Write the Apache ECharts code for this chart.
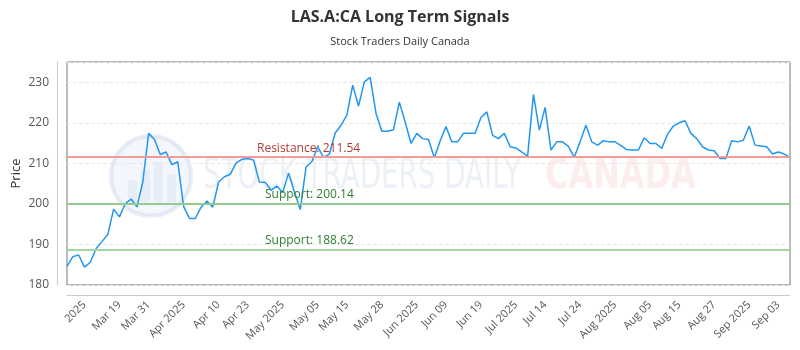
<!DOCTYPE html>
<html>
<head>
<meta charset="utf-8">
<script src="https://cdn.jsdelivr.net/npm/echarts@6/dist/echarts.min.js"></script>
<style>
    html, body { margin: 0; padding: 0; background: #fff; }
    #chart { width: 800px; height: 350px; }
</style>
</head>
<body>
<div id="chart"></div>
<script>
// closing prices, one per point
const prices = [
    184.6, 187.0, 187.4, 184.4, 185.6, 189.0, 190.7, 192.5, 198.7, 196.8,
    200.1, 201.2, 199.3, 205.4, 217.4, 215.9, 212.2, 212.8, 209.7, 210.4,
    199.4, 196.4, 196.4, 199.2, 200.7, 199.2, 205.4, 206.7, 207.3, 210.1,
    211.0, 211.2, 210.8, 205.4, 205.3, 203.4, 204.4, 202.8, 207.6, 203.0,
    198.6, 209.1, 210.4, 214.1, 211.5, 212.3, 217.5, 219.4, 221.9, 229.3,
    224.1, 230.1, 231.2, 222.3, 217.9, 217.9, 218.3, 225.1, 220.2, 214.9,
    217.4, 216.1, 215.9, 211.4, 215.5, 219.1, 215.3, 215.3, 217.4, 217.4,
    217.4, 221.3, 222.7, 216.9, 216.1, 217.4, 214.1, 213.8, 212.8, 211.8,
    227.0, 218.2, 223.8, 213.3, 215.3, 215.3, 214.2, 211.5, 215.3, 219.4,
    215.3, 214.5, 215.6, 215.3, 215.3, 214.4, 213.4, 213.3, 213.3, 216.3,
    214.9, 214.9, 213.7, 217.2, 219.2, 220.0, 220.5, 217.4, 216.1, 214.1,
    213.3, 213.1, 211.2, 211.2, 215.6, 215.3, 215.7, 219.2, 214.5, 214.3,
    214.1, 212.3, 212.8, 212.3, 211.5
];
const days = prices.map((p, i) => i);

// x axis labels and the point each one sits on
const tickLabels = ['2025', 'Mar 19', 'Mar 31', 'Apr 2025', 'Apr 10', 'Apr 23', 'May 2025', 'May 05',
    'May 15', 'May 28', 'Jun 2025', 'Jun 09', 'Jun 19', 'Jul 2025', 'Jul 14', 'Jul 24',
    'Aug 2025', 'Aug 05', 'Aug 15', 'Aug 27', 'Sep 2025', 'Sep 03'];
const tickIndex = [3, 9, 14, 20, 26, 31, 37, 43, 48, 54, 60, 65, 71, 77, 82, 88, 94, 100, 105, 111, 117, 122];

// signal levels
const levelNames = ['Resistance', 'Support', 'Support'];
const levelValues = [211.54, 200.14, 188.62];
const levelLine = ['#f19c97', '#93c993', '#a3d4a3'];
const levelText = ['#b23b33', '#2e7d32', '#2e7d32'];
const levelShift = [190, 198, 198];

const chart = echarts.init(document.getElementById('chart'), null, {renderer: 'canvas'});

let markData = levelValues.map((v, i) => ({
    yAxis: v,
    lineStyle: {color: levelLine[i], width: 2, type: 'solid'},
    label: {
        show: true,
        position: 'insideStartTop',
        distance: [levelShift[i], 3],
        formatter: levelNames[i] + ': ' + v.toFixed(2),
        color: levelText[i],
        fontSize: 12,
        fontFamily: 'Open Sans'
    }
}));

let option = {
    backgroundColor: '#fff',
    animation: false,
    title: {
        text: 'LAS.A:CA Long Term Signals',
        subtext: 'Stock Traders Daily Canada',
        left: 'center',
        top: 4,
        itemGap: 11,
        textStyle: {fontSize: 16, fontWeight: 'bold', color: '#333', fontFamily: 'Open Sans'},
        subtextStyle: {fontSize: 11, color: '#333', fontFamily: 'Open Sans'}
    },
    graphic: [{
        type: 'group',
        silent: true,
        z: 0,
        children: [
            {type: 'circle', shape: {cx: 151, cy: 176, r: 40},
                style: {fill: 'rgba(215,226,244,0.3)', stroke: 'rgba(195,208,232,0.4)', lineWidth: 4}},
            {type: 'rect', shape: {x: 128, y: 180, width: 9, height: 22},
                style: {fill: 'rgba(190,204,230,0.22)'}},
            {type: 'rect', shape: {x: 141, y: 170, width: 9, height: 32},
                style: {fill: 'rgba(190,204,230,0.22)'}},
            {type: 'rect', shape: {x: 154, y: 162, width: 9, height: 40},
                style: {fill: 'rgba(190,204,230,0.22)'}},
            {type: 'rect', shape: {x: 167, y: 174, width: 9, height: 28},
                style: {fill: 'rgba(190,204,230,0.22)'}},
            {type: 'text', x: 203, y: 177, scaleX: 0.66,
                style: {text: 'STOCK TRADERS DAILY', fontSize: 42, fontFamily: 'DejaVu Sans',
                    fill: 'rgba(200,210,232,0.34)', verticalAlign: 'middle'}},
            {type: 'text', x: 545, y: 177, scaleX: 0.76,
                style: {text: 'CANADA', fontSize: 42, fontWeight: 'bold', fontFamily: 'DejaVu Sans',
                    fill: 'rgba(250,205,205,0.35)', verticalAlign: 'middle'}}
        ]
    }],
    grid: {
        left: 67,
        right: 10,
        top: 62,
        bottom: 65,
        show: true,
        borderColor: '#777',
        borderWidth: 1,
        outerBoundsMode: 'none'
    },
    xAxis: {
        type: 'category',
        data: days,
        boundaryGap: false,
        offset: 10,
        axisLine: {show: true, lineStyle: {color: '#ccc'}},
        axisTick: {show: false},
        splitLine: {show: false},
        axisLabel: {
            rotate: 45,
            interval: idx => tickIndex.indexOf(idx) >= 0,
            formatter: (v, idx) => tickLabels[tickIndex.indexOf(idx)] || '',
            color: '#555',
            fontSize: 11,
            fontFamily: 'Open Sans',
            margin: 8
        }
    },
    yAxis: {
        type: 'value',
        name: 'Price',
        nameLocation: 'middle',
        nameGap: 34,
        nameMoveOverlap: false,
        nameTextStyle: {fontSize: 13, color: '#333', fontFamily: 'Open Sans'},
        min: 180,
        max: 235,
        interval: 10,
        offset: 10,
        axisLine: {show: true, lineStyle: {color: '#ccc'}},
        axisTick: {show: false},
        axisLabel: {color: '#555', fontSize: 12, fontFamily: 'Open Sans', margin: 8, showMaxLabel: false},
        splitLine: {show: true, lineStyle: {color: '#e8e8e8', type: 'dashed'}}
    },
    series: [{
        name: 'Price',
        type: 'line',
        data: prices,
        showSymbol: false,
        symbol: 'none',
        lineStyle: {color: '#2196f3', width: 1.5},
        itemStyle: {color: '#2196f3'},
        z: 3,
        markLine: {
            silent: true,
            symbol: 'none',
            data: markData
        }
    }]
};

chart.setOption(option);
</script>
</body>
</html>
